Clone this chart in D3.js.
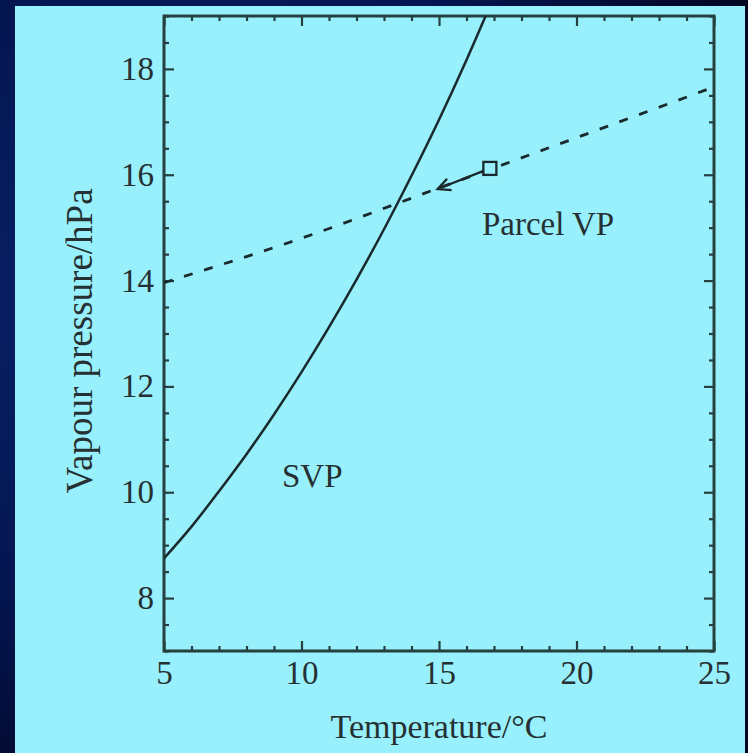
<!DOCTYPE html>
<html>
<head>
<meta charset="utf-8">
<script src="https://cdn.jsdelivr.net/npm/d3@7"></script>
<style>
html,body{margin:0;padding:0;background:#020a2a;}
svg{display:block;}
text{font-family:"Liberation Serif","Times New Roman",serif;fill:#263032;}
</style>
</head>
<body>
<svg id="chart" width="748" height="753"></svg>
<script>
// ---- data ----
const svpTemps  = [5, 6, 7, 8, 9, 10, 11, 12, 13, 14, 15, 16, 17];
const svpValues = [8.75, 9.35, 10.02, 10.72, 11.47, 12.27, 13.12, 14.02, 14.97, 15.98, 17.04, 18.17, 19.37];
const parcelTemps  = [5, 10, 15, 20, 25];
const parcelValues = [13.96, 14.8, 15.75, 16.7, 17.66];
const parcelPoint = [16.85, 16.12];
const arrowEnd    = [14.95, 15.73];
const xMajorTicks = [5, 10, 15, 20, 25];
const yMajorTicks = [8, 10, 12, 14, 16, 18];
const xLabel = "Temperature/°C";
const yLabel = "Vapour pressure/hPa";
const labels = [{text:"SVP", t:9.29, p:10.1}, {text:"Parcel VP", t:16.56, p:14.86}];

// ---- layout ----
const W = 748, H = 753;
const m = {left:164, right:714, top:16, bottom:651};
const svg = d3.select("#chart");

// background
const defs = svg.append("defs");
const rg = defs.append("radialGradient").attr("id","bg").attr("cx","30%").attr("cy","40%").attr("r","80%");
rg.append("stop").attr("offset","0%").attr("stop-color","#0b2a78");
rg.append("stop").attr("offset","60%").attr("stop-color","#041550");
rg.append("stop").attr("offset","100%").attr("stop-color","#010622");
svg.append("rect").attr("width",W).attr("height",H).attr("fill","url(#bg)");
svg.append("rect").attr("x",15).attr("y",6).attr("width",730).attr("height",H-6).attr("fill","#98f0fc");

const x = d3.scaleLinear().domain([5,25]).range([m.left, m.right]);
const y = d3.scaleLinear().domain([7,19]).range([m.bottom, m.top]);

const xMinor = d3.range(5, 25.001, 1).filter(v => !xMajorTicks.includes(v));
const yMinor = d3.range(7, 19.001, 0.5).filter(v => !yMajorTicks.includes(v));
const axisColor = "#26403f";

function styleAxis(g){
  g.select(".domain").remove();
  g.selectAll(".tick line").attr("stroke",axisColor).attr("stroke-width",2.2);
  g.selectAll("text").attr("font-size",33).attr("fill","#263032").attr("font-family","Liberation Serif");
}
// bottom
svg.append("g").attr("transform",`translate(0,${m.bottom})`)
  .call(d3.axisBottom(x).tickValues(xMajorTicks).tickSize(-10).tickPadding(10).tickFormat(d3.format("d"))).call(styleAxis);
svg.append("g").attr("transform",`translate(0,${m.bottom})`)
  .call(d3.axisBottom(x).tickValues(xMinor).tickSize(-5).tickFormat("")).call(styleAxis);
// top
svg.append("g").attr("transform",`translate(0,${m.top})`)
  .call(d3.axisTop(x).tickValues(xMajorTicks).tickSize(-10).tickFormat("")).call(styleAxis);
svg.append("g").attr("transform",`translate(0,${m.top})`)
  .call(d3.axisTop(x).tickValues(xMinor).tickSize(-5).tickFormat("")).call(styleAxis);
// left
svg.append("g").attr("transform",`translate(${m.left},0)`)
  .call(d3.axisLeft(y).tickValues(yMajorTicks).tickSize(-10).tickPadding(10).tickFormat(d3.format("d"))).call(styleAxis);
svg.append("g").attr("transform",`translate(${m.left},0)`)
  .call(d3.axisLeft(y).tickValues(yMinor).tickSize(-5).tickFormat("")).call(styleAxis);
// right
svg.append("g").attr("transform",`translate(${m.right},0)`)
  .call(d3.axisRight(y).tickValues(yMajorTicks).tickSize(-10).tickFormat("")).call(styleAxis);
svg.append("g").attr("transform",`translate(${m.right},0)`)
  .call(d3.axisRight(y).tickValues(yMinor).tickSize(-5).tickFormat("")).call(styleAxis);

// frame
svg.append("rect").attr("x",m.left).attr("y",m.top).attr("width",m.right-m.left).attr("height",m.bottom-m.top)
  .attr("fill","none").attr("stroke",axisColor).attr("stroke-width",3);

// clip
defs.append("clipPath").attr("id","clip").append("rect")
  .attr("x",m.left).attr("y",m.top).attr("width",m.right-m.left).attr("height",m.bottom-m.top);

const lineColor = "#1a2a2c";
const line = d3.line().x(d=>x(d[0])).y(d=>y(d[1])).curve(d3.curveMonotoneX);
const plot = svg.append("g").attr("clip-path","url(#clip)");
plot.append("path").datum(d3.zip(svpTemps, svpValues)).attr("d",line)
  .attr("fill","none").attr("stroke",lineColor).attr("stroke-width",2.5);
plot.append("path").datum(d3.zip(parcelTemps, parcelValues)).attr("d",line)
  .attr("fill","none").attr("stroke",lineColor).attr("stroke-width",2.8).attr("stroke-dasharray","9,12");

// arrow
const x0 = x(parcelPoint[0]), y0 = y(parcelPoint[1]);
const x1 = x(arrowEnd[0]), y1 = y(arrowEnd[1]);
plot.append("line").attr("x1",x0).attr("y1",y0).attr("x2",x1).attr("y2",y1)
  .attr("stroke",lineColor).attr("stroke-width",2.3);
const ang = Math.atan2(y0-y1, x0-x1), hl = 14, ha = 0.45;
const head = d3.path();
head.moveTo(x1 + hl*Math.cos(ang-ha), y1 + hl*Math.sin(ang-ha));
head.lineTo(x1, y1);
head.lineTo(x1 + hl*Math.cos(ang+ha), y1 + hl*Math.sin(ang+ha));
plot.append("path").attr("d",head.toString()).attr("fill","none").attr("stroke",lineColor).attr("stroke-width",2.3);
// square marker
const sq = 13;
plot.append("rect").attr("x",x0-sq/2).attr("y",y0-sq/2).attr("width",sq).attr("height",sq)
  .attr("fill","#98f0fc").attr("stroke",lineColor).attr("stroke-width",2.3);

// annotations
svg.selectAll("text.ann").data(labels).join("text").attr("class","ann")
  .attr("x",d=>x(d.t)).attr("y",d=>y(d.p)).attr("font-size",33).text(d=>d.text);

// axis titles
svg.append("text").attr("x",(m.left+m.right)/2).attr("y",738).attr("text-anchor","middle")
  .attr("font-size",34).text(xLabel);
svg.append("text").attr("transform",`translate(92,341) rotate(-90)`).attr("text-anchor","middle")
  .attr("font-size",37).text(yLabel);
</script>
</body>
</html>
